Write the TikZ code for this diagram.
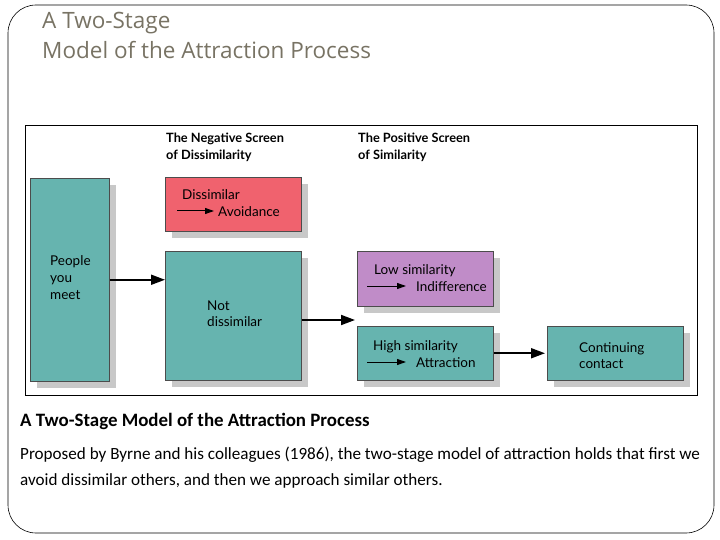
\documentclass[tikz,border=0pt]{standalone}
\usepackage{fontspec}
\setmainfont{Carlito}
\newfontfamily\titlefont{Open Sans}
\newfontfamily\boxfont{Lato}
\usetikzlibrary{arrows.meta}
\definecolor{tealbox}{RGB}{102,180,175}
\definecolor{redbox}{RGB}{240,98,110}
\definecolor{purplebox}{RGB}{192,140,200}
\definecolor{titlegray}{RGB}{120,115,100}
\definecolor{shadowgray}{RGB}{200,200,200}
\begin{document}
\begin{tikzpicture}[x=1pt,y=-1pt,
  box/.style={draw=black!70, line width=0.5pt, anchor=north west, inner sep=0pt},
  shade/.style={fill=shadowgray},
  arr/.style={-{Triangle[length=14pt,width=10pt]}, line width=1.8pt},
  smallarr/.style={-{Triangle[length=9pt,width=6pt]}, line width=1pt},
  btxt/.style={anchor=base west, inner sep=0pt, font=\boxfont\fontsize{13.5}{16}\selectfont},
  htxt/.style={anchor=base west, inner sep=0pt, font=\boxfont\bfseries\fontsize{12.8}{15}\selectfont}
]
\useasboundingbox (0,0) rectangle (720,540);
% outer frame
\draw[line width=0.6pt, rounded corners=28pt] (8,5) rectangle (714,533);
% title
\node[anchor=base west, inner sep=0pt, text=titlegray, font=\titlefont\fontsize{22.5}{26}\selectfont] (t1) at (42,29) {A Two-Stage};
\node[anchor=base west, inner sep=0pt, text=titlegray, font=\titlefont\fontsize{22.5}{26}\selectfont] (t2) at (42,59) {Model of the Attraction Process};
% figure frame
\draw[line width=0.8pt] (25,125) rectangle (697,395);
% headers
\node[htxt] (h1) at (166,143) {The Negative Screen};
\node[htxt] (h1b) at (166,160) {of Dissimilarity};
\node[htxt] (h2) at (358,143) {The Positive Screen};
\node[htxt] (h2b) at (358,160) {of Similarity};
% shadows
\fill[shade] (37,185) rectangle ++(79,203);
\fill[shade] (172,184) rectangle ++(136,54);
\fill[shade] (172,258) rectangle ++(136,129);
\fill[shade] (364,258) rectangle ++(136,55);
\fill[shade] (364,333) rectangle ++(136,54);
\fill[shade] (554,333) rectangle ++(136,54);
% boxes
\node[box, fill=tealbox, minimum width=79pt, minimum height=203pt] (people) at (30,178) {};
\node[box, fill=redbox, minimum width=136pt, minimum height=54pt] (dis) at (165,177) {};
\node[box, fill=tealbox, minimum width=136pt, minimum height=129pt] (notdis) at (165,251) {};
\node[box, fill=purplebox, minimum width=136pt, minimum height=55pt] (low) at (357,251) {};
\node[box, fill=tealbox, minimum width=136pt, minimum height=54pt] (high) at (357,326) {};
\node[box, fill=tealbox, minimum width=136pt, minimum height=54pt] (cont) at (547,326) {};
% box texts
\node[btxt] (p1) at (50,265) {People};
\node[btxt] (p2) at (50,282) {you};
\node[btxt] (p3) at (50,299) {meet};
\node[btxt] (d1) at (182,200) {Dissimilar};
\node[btxt] (d2) at (218,216) {Avoidance};
\coordinate (da) at (177,211);
\draw[smallarr] (da) -- ([xshift=-4pt]d2.west |- da);
\node[btxt] (n1) at (207,310) {Not};
\node[btxt] (n2) at (207,326) {dissimilar};
\node[btxt] (l1) at (374,274) {Low similarity};
\node[btxt] (l2) at (416,291) {Indifference};
\coordinate (la) at (367,286);
\draw[smallarr] (la) -- ([xshift=-10pt]l2.west |- la);
\node[btxt] (g1) at (373,350) {High similarity};
\node[btxt] (g2) at (416,367) {Attraction};
\coordinate (ga) at (367,362);
\draw[smallarr] (ga) -- ([xshift=-10pt]g2.west |- ga);
\node[btxt] (c1) at (579,352) {Continuing};
\node[btxt] (c2) at (579,368) {contact};
% connectors
\draw[arr] (people.east) -- (notdis.west |- people.east);
\coordinate (gap) at (355,320);
\draw[arr] (notdis.east |- gap) -- (gap);
\draw[arr] (high.east) -- ([xshift=-2pt]cont.west);
% caption
\node[anchor=base west, inner sep=0pt, font=\bfseries\fontsize{18.9}{22}\selectfont] (cap) at (20,426) {A Two-Stage Model of the Attraction Process};
\node[anchor=base west, inner sep=0pt, font=\fontsize{17.1}{20}\selectfont] (b1) at (20,459) {Proposed by Byrne and his colleagues (1986), the two-stage model of attraction holds that first we};
\node[anchor=base west, inner sep=0pt, font=\fontsize{17.1}{20}\selectfont] (b2) at (20,485) {avoid dissimilar others, and then we approach similar others.};
\end{tikzpicture}
\end{document}
